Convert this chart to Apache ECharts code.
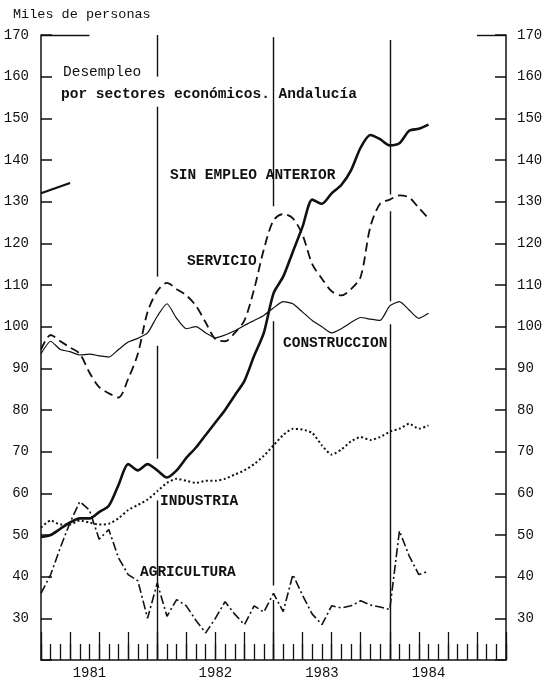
<!DOCTYPE html>
<html>
<head>
<meta charset="utf-8">
<script src="https://cdn.jsdelivr.net/npm/echarts@6/dist/echarts.min.js"></script>
<style>
  html, body { margin: 0; padding: 0; background: #fff; }
  #chart { width: 557px; height: 687px; }
</style>
</head>
<body>
<div id="chart"></div>
<script>
// meses (ene 1981 - ene 1985), un punto por mes
const months = [
  '1981-01','1981-02','1981-03','1981-04','1981-05','1981-06','1981-07','1981-08','1981-09','1981-10','1981-11','1981-12',
  '1982-01','1982-02','1982-03','1982-04','1982-05','1982-06','1982-07','1982-08','1982-09','1982-10','1982-11','1982-12',
  '1983-01','1983-02','1983-03','1983-04','1983-05','1983-06','1983-07','1983-08','1983-09','1983-10','1983-11','1983-12',
  '1984-01','1984-02','1984-03','1984-04','1984-05','1984-06','1984-07','1984-08','1984-09','1984-10','1984-11','1984-12',
  '1985-01'
];
const yearLabels = ['1981', '1982', '1983', '1984'];
const yearLabelMonths = ['1981-06', '1982-07', '1983-06', '1984-05'];
const yearStarts = ['1982-01', '1983-01', '1984-01'];

// miles de personas
const sinEmpleo = [49.5,50,51.5,53,54,54,55.5,57,62,67,65.5,67,65.5,63.8,65.5,68.5,71,74,77,80,83.5,87,93,98.5,108,112,118,124,130.5,129.5,132,134,137.5,143,146,145,143.5,144,147,147.5,148.5];
const servicio = [94.5,98,96.5,95,93.5,89,85.5,84,83,87.5,93.5,103.5,108.5,110.5,109,107.5,105,101,97,96.5,98.5,101.5,109,118.5,125.5,127,126,122,115,111.5,108.5,107.5,109,112,124,129.5,130.5,131.5,131,128.5,126];
const construccion = [93.5,96.5,94.5,94,93.2,93.4,93,92.7,94.5,96.3,97.2,98.5,102.5,105.5,102,99.5,100,98.5,97.3,98,99,100.3,101.5,102.7,104.5,106,105.5,103.5,101.5,100,98.5,99.5,101,102.2,101.8,101.5,105,106,104,102,103.2];
const industria = [51.8,53.5,52.5,52.5,53.5,53,52.5,52.7,54,56,57.2,58.5,60.5,62.5,63.5,63,62.5,63,63,63.5,64.5,65.5,67,69,71.5,74,75.5,75.3,74.5,71.5,69.3,70.5,72.5,73.5,72.8,73.5,74.8,75.5,76.7,75.5,76.3];
const agricultura = [36,40.5,47,53,58,56,49,51.3,44.5,40.5,39,30,38.5,30.5,34.5,33,29.5,26.5,30,34,31,28.5,33,31.5,36,31.6,40.5,35.5,31,28.5,33,32.5,33,34.2,33.2,32.7,32.1,51,45,40.5,41.3];
const fragmento = [132, null, null, 134.5];

// tramos de las lineas verticales de cada año [desde, hasta]
const yearLineSegments = [
  [[170, 160], [152.8, 112], [95.4, 68.3], [58.3, 20]],
  [[169.5, 128.9], [101.3, 37.9], [34.4, 20]],
  [[168.8, 131.7], [127.7, 106.1], [100.6, 20]]
];

const FONT = '"Liberation Mono", "DejaVu Sans Mono", monospace';
const INK = '#111';

const markSegments = [];
yearStarts.forEach((m, i) => {
  yearLineSegments[i].forEach(s => {
    markSegments.push([{ coord: [m, s[0]] }, { coord: [m, s[1]] }]);
  });
});
markSegments.push([{ coord: ['1981-01', 170] }, { coord: ['1981-06', 170] }]);
markSegments.push([{ coord: ['1984-10', 170] }, { coord: ['1985-01', 170] }]);

function lineSeries(name, data, lineStyle, smooth) {
  return {
    name: name,
    type: 'line',
    data: data,
    xAxisIndex: 0,
    yAxisIndex: 0,
    symbol: 'none',
    smooth: smooth,
    connectNulls: true,
    lineStyle: Object.assign({ color: INK }, lineStyle),
    silent: true
  };
}

function label(text, x, y, bold) {
  return {
    type: 'text',
    x: x,
    y: y,
    style: {
      text: text,
      fill: INK,
      font: (bold ? 'bold ' : '') + '14.5px ' + FONT,
      align: 'left',
      verticalAlign: 'middle'
    }
  };
}

const chart = echarts.init(document.getElementById('chart'));

const yAxisBase = {
  type: 'value',
  min: 20,
  max: 170,
  interval: 10,
  axisLine: { show: true, lineStyle: { color: INK, width: 1.5 } },
  axisTick: { show: true, inside: true, length: 11, lineStyle: { color: INK, width: 1.5 } },
  splitLine: { show: false },
  axisLabel: {
    color: INK,
    fontFamily: FONT,
    fontSize: 14,
    formatter: v => (v === 20 ? '' : String(v))
  }
};

const option = {
  animation: false,
  backgroundColor: '#fff',
  grid: { left: 41, right: 51, top: 35, bottom: 27 },
  xAxis: [
    {
      type: 'category',
      data: months,
      boundaryGap: false,
      axisLine: { show: true, lineStyle: { color: INK, width: 1.5 } },
      axisTick: { show: true, inside: true, interval: 0, length: 16, lineStyle: { color: INK, width: 1.3 } },
      axisLabel: {
        color: INK,
        fontFamily: FONT,
        fontSize: 14,
        margin: 6,
        interval: (i, v) => yearLabelMonths.indexOf(v) >= 0,
        formatter: v => yearLabels[yearLabelMonths.indexOf(v)] || ''
      },
      splitLine: { show: false }
    },
    {
      type: 'category',
      data: months,
      boundaryGap: false,
      position: 'bottom',
      axisLine: { show: false },
      axisTick: { show: true, inside: true, interval: 2, length: 28, lineStyle: { color: INK, width: 1.3 } },
      axisLabel: { show: false },
      splitLine: { show: false }
    }
  ],
  yAxis: [
    Object.assign({}, yAxisBase, {
      position: 'left',
      axisLabel: Object.assign({}, yAxisBase.axisLabel, { margin: 12 })
    }),
    Object.assign({}, yAxisBase, {
      position: 'right',
      axisLabel: Object.assign({}, yAxisBase.axisLabel, { margin: 11 })
    })
  ],
  series: [
    Object.assign(lineSeries('SIN EMPLEO ANTERIOR', sinEmpleo, { width: 2.6, type: 'solid' }, 0.25), {
      markLine: {
        silent: true,
        symbol: ['none', 'none'],
        label: { show: false },
        lineStyle: { color: INK, width: 1.4, type: 'solid' },
        data: markSegments
      }
    }),
    lineSeries('SERVICIO', servicio, { width: 1.8, type: [9, 5] }, 0.3),
    lineSeries('CONSTRUCCION', construccion, { width: 1.2, type: 'solid' }, 0.2),
    lineSeries('INDUSTRIA', industria, { width: 2, type: [2, 2.5] }, 0.2),
    lineSeries('AGRICULTURA', agricultura, { width: 1.6, type: [9, 3, 2, 3] }, false),
    lineSeries('', fragmento, { width: 2.2, type: 'solid' }, false)
  ],
  graphic: [
    {
      type: 'text', x: 13, y: 14,
      style: { text: 'Miles de personas', fill: INK, font: '13.5px ' + FONT, verticalAlign: 'middle' }
    },
    label('Desempleo', 63, 72, false),
    label('por sectores económicos. Andalucía', 61, 94, true),
    label('SIN EMPLEO ANTERIOR', 170, 175, true),
    label('SERVICIO', 187, 261, true),
    label('CONSTRUCCION', 283, 343, true),
    label('INDUSTRIA', 160, 501, true),
    label('AGRICULTURA', 140, 572, true)
  ]
};

chart.setOption(option);
</script>
</body>
</html>
